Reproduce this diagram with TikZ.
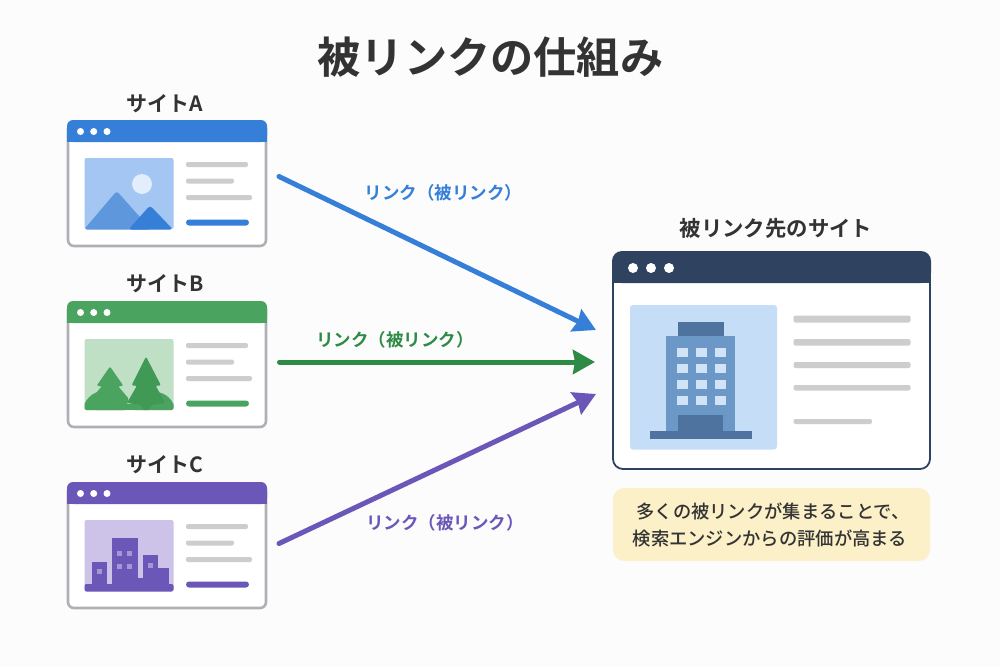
\documentclass[tikz,border=0pt]{standalone}
\usepackage{fontspec}
\usetikzlibrary{arrows.meta}
\newfontfamily\jpbold{Noto Sans CJK JP Bold}
\newfontfamily\jpmed{Noto Sans CJK JP Medium}
\definecolor{inkdark}{HTML}{333333}
\definecolor{frameg}{HTML}{AEB0B5}
\definecolor{lineg}{HTML}{CDCDCF}
\definecolor{bluem}{HTML}{357FD8}
\definecolor{bluel}{HTML}{A3C6F2}
\definecolor{bluep}{HTML}{5E97DC}
\definecolor{sunc}{HTML}{E3EEFC}
\definecolor{greenm}{HTML}{4AA35F}
\definecolor{greend}{HTML}{409A56}
\definecolor{greenl}{HTML}{BFE0C5}
\definecolor{greena}{HTML}{2E8B45}
\definecolor{purplem}{HTML}{6B57B8}
\definecolor{purplel}{HTML}{CDC3E8}
\definecolor{purplew}{HTML}{A597D3}
\definecolor{navy}{HTML}{2F4361}
\definecolor{skyl}{HTML}{C6DDF8}
\definecolor{towerm}{HTML}{6C98C8}
\definecolor{towerd}{HTML}{4F739F}
\definecolor{towerw}{HTML}{D3E3F7}
\definecolor{notec}{HTML}{FBF0C8}
\tikzset{
  x=1pt,y=-1pt,
  title/.style={font=\jpbold\fontsize{43.2}{43.2}\selectfont,text=inkdark,inner sep=0pt},
  sitename/.style={font=\jpbold\fontsize{21}{21}\selectfont,text=inkdark,inner sep=0pt},
  linklabel/.style={font=\jpbold\fontsize{17.5}{17.5}\selectfont,inner sep=0pt},
  notetext/.style={font=\jpmed\fontsize{18.3}{18.3}\selectfont,text=inkdark,inner sep=0pt},
  flow/.style={line width=5pt,-{Stealth[length=22pt,width=24pt,inset=2pt]},line cap=round},
}
% Small browser window: #1 top edge, #2 accent colour, #3 picture panel tint
\newcommand{\smallwindow}[3]{
  \fill[white,rounded corners=6pt] (67,#1) rectangle (267,#1+127);
  \draw[frameg,line width=2.6pt,rounded corners=6pt] (68,#1+8) -- (68,#1+126) -- (266,#1+126) -- (266,#1+8);
  \fill[#2,rounded corners=6pt] (67,#1+22) -- (67,#1) -- (267,#1) -- (267,#1+22) -- cycle;
  \fill[#2] (67,#1+12) rectangle (267,#1+22);
  \foreach \dx in {80.5,93.7,107}{\fill[white] (\dx,#1+11.5) circle (3.5);}
  \fill[#3,rounded corners=2pt] (84.5,#1+38) rectangle (173.5,#1+109);
  \fill[lineg,rounded corners=2pt] (186,#1+42) rectangle (248,#1+47);
  \fill[lineg,rounded corners=2pt] (186,#1+58.5) rectangle (234,#1+63.5);
  \fill[lineg,rounded corners=2pt] (186,#1+75) rectangle (252,#1+80);
  \fill[#2,rounded corners=3pt] (186,#1+99.5) rectangle (249,#1+105.5);
}
\begin{document}
\begin{tikzpicture}
\useasboundingbox (0,0) rectangle (1000,667);
\fill[white!99!black] (0,0) rectangle (1000,667);

\node[title] (heading) at (490.5,57) {被リンクの仕組み};

% Site A
\node[sitename] (nameA) at (165,104) {サイトA};
\smallwindow{120}{bluem}{bluel}
\fill[sunc] (142,184) circle (10);
\fill[bluep,rounded corners=3pt] (84,229.5) -- (116.7,191) -- (151,229.5) -- cycle;
\fill[bluem,rounded corners=3pt] (128.5,229.5) -- (150,205.5) -- (173,229.5) -- cycle;

% Site B
\node[sitename] (nameB) at (165,284) {サイトB};
\smallwindow{301}{greenm}{greenl}
\begin{scope}
  \clip[rounded corners=2pt] (84.5,339) rectangle (173.5,410);
  \fill[greenm] (104,412) circle (21);
  \fill[greenm] (155,412) circle (20);
  \fill[greenm] (95,404) rectangle (165,410);
  \fill[greenm,rounded corners=1.5pt] (110,366.5) -- (123.5,386) -- (118,386) -- (129,399) -- (125,410) -- (95,410) -- (91,399) -- (102,386) -- (96.5,386) -- cycle;
  \fill[greend,rounded corners=1.5pt] (146,356.5) -- (161,385.5) -- (155.5,385.5) -- (165.5,403) -- (151,405) -- (149,410) -- (143,410) -- (141,405) -- (127,403) -- (137,385.5) -- (131.5,385.5) -- cycle;
\end{scope}

% Site C
\node[sitename] (nameC) at (165,465) {サイトC};
\smallwindow{482}{purplem}{purplel}
\fill[purplem,rounded corners=2pt] (84.5,584) rectangle (173.5,591.5);
\fill[purplem] (91.7,561.7) rectangle (106.7,585);
\fill[purplem] (111.7,537.5) rectangle (137.7,585);
\fill[purplem] (143.3,555.3) rectangle (158.3,585);
\fill[purplem] (158,568.3) rectangle (168.7,585);
\fill[purplem] (137,578) rectangle (144,585);
\foreach \wx/\wy in {99.3/571.3,119.7/553.3,129.3/553.3,119.7/566.7,129.3/566.7,150.7/565.7}{
  \fill[purplew] (\wx-2.5,\wy-2.7) rectangle (\wx+2.5,\wy+2.7);
}

% Destination site
\node[sitename,font=\jpbold\fontsize{21.4}{21.4}\selectfont] (nameT) at (776,228) {被リンク先のサイト};
\fill[white,rounded corners=10pt] (612,251) rectangle (931,470);
\draw[navy,line width=1.8pt,rounded corners=10pt] (613,262) -- (613,469) -- (930,469) -- (930,262);
\fill[navy,rounded corners=10pt] (612,283) -- (612,251) -- (931,251) -- (931,283) -- cycle;
\fill[navy] (612,265) rectangle (931,283);
\foreach \dx in {633,651,669}{\fill[white] (\dx,268) circle (5);}
\fill[skyl,rounded corners=3pt] (630,305) rectangle (777,449.5);
\fill[towerd] (677.5,321.5) rectangle (724,336);
\fill[towerm] (666,336) rectangle (735,431);
\fill[towerd] (678,414.5) rectangle (723,431);
\fill[towerd] (649.5,431) rectangle (751.5,439);
\foreach \wy in {352,368,384,400}{
  \foreach \wx in {682,701,720}{
    \fill[towerw] (\wx-5.5,\wy-4.5) rectangle (\wx+5.5,\wy+4.5);
  }
}
\fill[lineg,rounded corners=2pt] (793.5,315.5) rectangle (910.5,322.5);
\fill[lineg,rounded corners=2pt] (793.5,339) rectangle (910.5,345.5);
\fill[lineg,rounded corners=2pt] (793.5,362) rectangle (910.5,368);
\fill[lineg,rounded corners=2pt] (793.5,385) rectangle (910.5,390.5);
\fill[lineg,rounded corners=2pt] (793.5,419) rectangle (872,424);

% Note under the destination site
\node[fill=notec,rounded corners=11pt,minimum width=317pt,minimum height=73pt,inner sep=0pt] (note) at (771.5,524.5) {};
\node[notetext] (noteA) at (773,511.5) {多くの被リンクが集まることで、};
\node[notetext] (noteB) at (770,538.5) {検索エンジンからの評価が高まる};

% Link arrows
\coordinate (outA) at (279,176.5);
\coordinate (inA) at (596,330);
\coordinate (outB) at (279.5,362);
\coordinate (inB) at (595,362);
\coordinate (outC) at (279,543.5);
\coordinate (inC) at (596,394);
\draw[flow,bluem] (outA) -- (inA);
\draw[flow,greena] (outB) -- (inB);
\draw[flow,purplem] (outC) -- (inC);
\node[linklabel,text=bluem] (labelA) at (443.5,193) {リンク（被リンク）};
\node[linklabel,text=greena] (labelB) at (395,339.5) {リンク（被リンク）};
\node[linklabel,text=purplem] (labelC) at (445,522.5) {リンク（被リンク）};
\end{tikzpicture}
\end{document}
